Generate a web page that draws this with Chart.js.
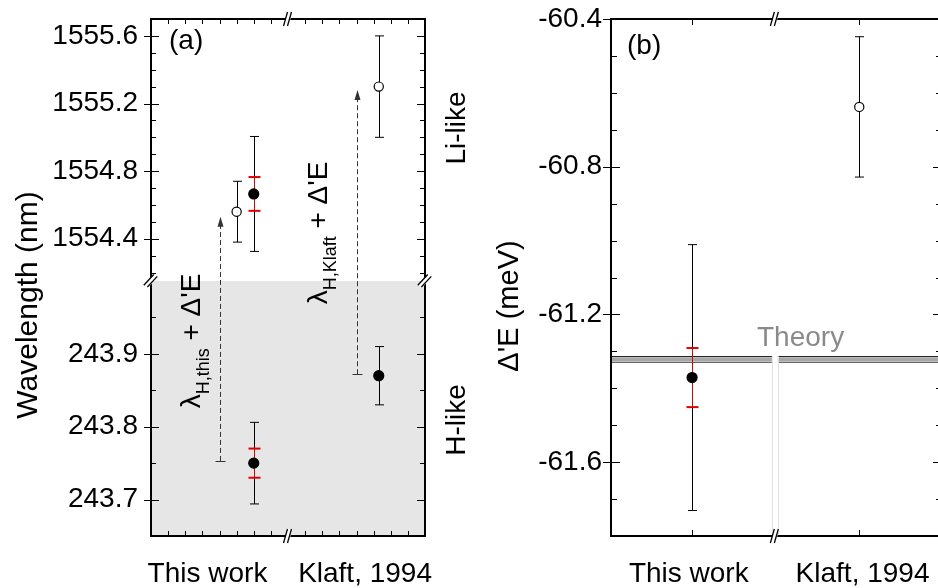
<!DOCTYPE html>
<html>
<head>
<meta charset="utf-8">
<title>Wavelength and Δ'E comparison</title>
<script src="https://cdn.jsdelivr.net/npm/chart.js@4.4.1/dist/chart.umd.min.js"></script>
<style>
	html, body { margin: 0; padding: 0; background: #fff; overflow: hidden; }
	#wrap { position: relative; width: 938px; height: 588px; overflow: hidden; }
	#panelA { position: absolute; left: 0; top: 0; }
	#panelB { position: absolute; left: 470px; top: 0; }
</style>
</head>
<body>
<div id="wrap">
	<canvas id="panelA" width="470" height="588"></canvas>
	<canvas id="panelB" width="480" height="588"></canvas>
</div>
<script>
var categories = [ 'This work', 'Klaft, 1994' ];
var catPosA    = [ 3.3, 12.5 ];   // label centres on the (a) x axis (0–16)
var catPosB    = [ 0.94, 3.04 ];  // label centres on the (b) x axis (0–4)

// (a) Li-like, upper segment (nm)
var liX    = [ 5, 6, 13.3 ];
var liY    = [ 1554.56, 1554.665, 1555.30 ];
var liErr  = [ 0.18, 0.34, 0.30 ];
var liStat = [ 0, 0.10, 0 ];
var liFill = [ false, true, false ];

// (a) H-like, lower segment (nm)
var hX    = [ 6, 13.3 ];
var hY    = [ 243.750, 243.870 ];
var hErr  = [ 0.056, 0.040 ];
var hStat = [ 0.020, 0 ];
var hFill = [ true, true ];

// (a) lambda_H + dE arrows
var arrowX    = [ 4, 12 ];
var arrowFrom = [ 243.753, 243.872 ];
var arrowTo   = [ 1554.53, 1555.28 ];
var breakXA   = 8;

// (b) dE (meV)
var dX    = [ 0.98, 3.0 ];
var dY    = [ -61.371, -60.638 ];
var dErr  = [ 0.36, 0.19 ];
var dStat = [ 0.08, 0 ];
var dFill = [ true, false ];
var theoryBand = [ -61.328, -61.316 ];
var breakXB    = 1.98;

// labelled ticks
var ticksTop = [ 1554.4, 1554.8, 1555.2, 1555.6 ];
var ticksBot = [ 243.7, 243.8, 243.9 ];
var ticksB   = [ -61.6, -61.2, -60.8, -60.4 ];

(function() {
	'use strict';

	var FONT = '"Liberation Sans", Arial, Helvetica, sans-serif';

	/* ═══ HELPERS ═══ */

	function isIn( list, v ) {
		for ( var i = 0; i < list.length; i++ ) {
			if ( Math.abs( list[i] - v ) < 1e-6 ) return true;
		}
		return false;
	}

	function line( ctx, x1, y1, x2, y2 ) {
		ctx.beginPath();
		ctx.moveTo( x1, y1 );
		ctx.lineTo( x2, y2 );
		ctx.stroke();
	}

	function crisp( v ) {
		return Math.round( v ) + 0.5;
	}

	function makePoints( xs, ys, fills, axis, err, stat ) {
		var pts = [];
		for ( var i = 0; i < xs.length; i++ ) pts.push({ x: xs[i], y: ys[i] });
		return {
			data: pts,
			yAxisID: axis,
			showLine: false,
			pointRadius: fills.map( function( f ) { return f ? 5 : 4.6; } ),
			pointHoverRadius: 5,
			pointBackgroundColor: fills.map( function( f ) { return f ? '#000' : '#fff'; } ),
			pointBorderColor: '#000',
			pointBorderWidth: 1.2,
			err: err,
			stat: stat
		};
	}

	// tick labels sit "gap" px left of the frame; the gap is given as tickLength
	// (not drawn) so it does not add to the top padding of the chart area
	function yAxis( min, max, step, labels, width, gap, extra ) {
		var o = {
			type: 'linear',
			axis: 'y',
			position: 'left',
			min: min,
			max: max,
			grid: { display: false, drawTicks: true, tickLength: gap },
			border: { display: false },
			ticks: {
				stepSize: step,
				autoSkip: false,
				includeBounds: false,
				padding: 0,
				color: '#000',
				font: { family: FONT, size: 28 },
				callback: function( v ) { return isIn( labels, v ) ? v.toFixed( 1 ) : ''; }
			},
			afterFit: function( scale ) { scale.width = width; }
		};
		for ( var k in extra ) o[k] = extra[k];
		return o;
	}

	function errBar( ctx, x, yHi, yLo, cap, color, lw, capLw ) {
		ctx.strokeStyle = color;
		ctx.lineWidth = lw;
		line( ctx, x, yHi, x, yLo );
		ctx.lineWidth = capLw;
		line( ctx, x - cap, yHi, x + cap, yHi );
		line( ctx, x - cap, yLo, x + cap, yLo );
	}

	// ticks on the left and right frame lines, pointing inward
	function yTicks( ctx, scale, area, majors, len ) {
		ctx.strokeStyle = '#000';
		ctx.lineWidth = 1;
		scale.ticks.forEach( function( t ) {
			var major = isIn( majors, t.value );
			var atEnd = Math.abs( t.value - scale.min ) < 1e-6 || Math.abs( t.value - scale.max ) < 1e-6;
			if ( atEnd && ! major ) return;
			var y = crisp( scale.getPixelForValue( t.value ) );
			var inner = major ? len.major : len.minor;
			line( ctx, area.left - ( major ? len.out : 0 ), y, area.left + inner, y );
			line( ctx, area.right - inner, y, area.right, y );
		});
	}

	function xTicks( ctx, scale, area, values, len ) {
		ctx.strokeStyle = '#000';
		ctx.lineWidth = 1;
		values.forEach( function( v ) {
			var x = crisp( scale.getPixelForValue( v ) );
			line( ctx, x, area.top, x, area.top + len );
			line( ctx, x, area.bottom - len, x, area.bottom );
		});
	}

	// "//" break mark across an axis line
	function breakMark( ctx, x, y, vertical ) {
		ctx.save();
		ctx.translate( x, y );
		if ( vertical ) ctx.rotate( Math.PI / 2 * 0.3 );
		ctx.fillStyle = '#fff';
		ctx.beginPath();
		ctx.moveTo( -4.5, 7 );
		ctx.lineTo( -0.5, -7 );
		ctx.lineTo( 4.5, -7 );
		ctx.lineTo( 0.5, 7 );
		ctx.closePath();
		ctx.fill();
		ctx.strokeStyle = '#000';
		ctx.lineWidth = 1.3;
		line( ctx, -4.5, 7, -0.5, -7 );
		line( ctx, -0.5, 7, 3.5, -7 );
		ctx.restore();
	}

	function rotText( ctx, x, yc, parts, color ) {
		var widths = [];
		var total = 0;
		parts.forEach( function( p ) {
			ctx.font = p.size + 'px ' + FONT;
			var w = ctx.measureText( p.text ).width;
			widths.push( w );
			total += w;
		});
		ctx.save();
		ctx.translate( x, yc );
		ctx.rotate( -Math.PI / 2 );
		ctx.fillStyle = color || '#000';
		ctx.textAlign = 'left';
		ctx.textBaseline = 'alphabetic';
		var cx = -total / 2;
		parts.forEach( function( p, i ) {
			ctx.font = p.size + 'px ' + FONT;
			ctx.fillText( p.text, cx, p.shift || 0 );
			cx += widths[i];
		});
		ctx.restore();
	}

	function text( ctx, str, x, y, size, align, color ) {
		ctx.font = size + 'px ' + FONT;
		ctx.fillStyle = color || '#000';
		ctx.textAlign = align || 'left';
		ctx.textBaseline = 'alphabetic';
		ctx.fillText( str, x, y );
	}

	/* ═══ SHARED PLUGINS ═══ */

	var errorBarPlugin = {
		id: 'errorBars',
		beforeDatasetsDraw: function( chart ) {
			var ctx = chart.ctx;
			ctx.save();
			chart.data.datasets.forEach( function( ds, di ) {
				if ( ! ds.err ) return;
				var meta = chart.getDatasetMeta( di );
				var ys = chart.scales[ ds.yAxisID ];
				ds.data.forEach( function( p, i ) {
					var x = crisp( meta.data[i].x );
					errBar( ctx, x, ys.getPixelForValue( p.y + ds.err[i] ), ys.getPixelForValue( p.y - ds.err[i] ), 4.5, '#000', 1, 1 );
					if ( ds.stat[i] ) {
						errBar( ctx, x, ys.getPixelForValue( p.y + ds.stat[i] ), ys.getPixelForValue( p.y - ds.stat[i] ), 6, '#e00000', 1, 2 );
					}
				});
			});
			ctx.restore();
		}
	};

	var baseOptions = function( padding ) {
		return {
			responsive: false,
			animation: false,
			events: [],
			layout: { padding: padding },
			plugins: { legend: { display: false }, tooltip: { enabled: false } }
		};
	};

	/* ═══ PANEL (a) ═══ */

	var panelABack = {
		id: 'panelABack',
		beforeDatasetsDraw: function( chart ) {
			var ctx = chart.ctx;
			var a = chart.chartArea;
			var yb = chart.scales.yBot;
			var top = yb.getPixelForValue( yb.max );
			ctx.save();
			ctx.fillStyle = '#e6e6e6';
			ctx.fillRect( a.left, top, a.right - a.left, a.bottom - top );

			// lambda_H + dE arrows, from the H-like scale up to the Li-like scale
			var xs = chart.scales.x;
			var yt = chart.scales.yTop;
			ctx.strokeStyle = '#333';
			ctx.fillStyle = '#333';
			for ( var i = 0; i < arrowX.length; i++ ) {
				var x  = crisp( xs.getPixelForValue( arrowX[i] ) );
				var y0 = yb.getPixelForValue( arrowFrom[i] );
				var y1 = yt.getPixelForValue( arrowTo[i] );
				ctx.lineWidth = 1;
				ctx.setLineDash( [ 5, 3 ] );
				line( ctx, x, y0, x, y1 + 8 );
				ctx.setLineDash( [] );
				line( ctx, x - 5, crisp( y0 ), x + 5, crisp( y0 ) );
				ctx.beginPath();
				ctx.moveTo( x, y1 );
				ctx.lineTo( x - 3, y1 + 10 );
				ctx.lineTo( x + 3, y1 + 10 );
				ctx.closePath();
				ctx.fill();
			}
			ctx.restore();
		}
	};

	var panelAFrame = {
		id: 'panelAFrame',
		afterDatasetsDraw: function( chart ) {
			var ctx = chart.ctx;
			var a = chart.chartArea;
			var xs = chart.scales.x;
			var yt = chart.scales.yTop;
			var yb = chart.scales.yBot;
			ctx.save();

			ctx.strokeStyle = '#000';
			ctx.lineWidth = 2;
			ctx.strokeRect( a.left, a.top, a.right - a.left, a.bottom - a.top );

			var len = { major: 8, minor: 5, out: 7 };
			yTicks( ctx, yt, a, ticksTop, len );
			yTicks( ctx, yb, a, ticksBot, len );

			var xv = [];
			for ( var v = xs.min + 1; v < xs.max; v++ ) if ( v !== breakXA ) xv.push( v );
			xTicks( ctx, xs, a, xv, 5 );

			var bx = xs.getPixelForValue( breakXA );
			var by = yb.getPixelForValue( yb.max );
			breakMark( ctx, bx, a.top, false );
			breakMark( ctx, bx, a.bottom, false );
			breakMark( ctx, a.left, by, true );
			breakMark( ctx, a.right, by, true );

			// category labels
			for ( var i = 0; i < categories.length; i++ ) {
				text( ctx, categories[i], xs.getPixelForValue( catPosA[i] ), 582, 28, 'center' );
			}

			text( ctx, '(a)', 169, 49, 28 );
			rotText( ctx, 37, 305, [ { text: 'Wavelength (nm)', size: 30 } ] );
			rotText( ctx, 465, 128, [ { text: 'Li-like', size: 28 } ] );
			rotText( ctx, 465, 420, [ { text: 'H-like', size: 28 } ] );
			rotText( ctx, 200, 341, [
				{ text: 'λ', size: 28 },
				{ text: 'H,this', size: 18, shift: 9 },
				{ text: ' + Δ\'E', size: 28 }
			] );
			rotText( ctx, 327, 233, [
				{ text: 'λ', size: 28 },
				{ text: 'H,Klaft', size: 18, shift: 9 },
				{ text: ' + Δ\'E', size: 28 }
			] );
			ctx.restore();
		}
	};

	var optsA = baseOptions({ top: 19, right: 45, bottom: 52, left: 0 });
	optsA.scales = {
		x: { type: 'linear', display: false, min: 0, max: 16, ticks: { stepSize: 1 } },
		yBot: yAxis( 243.65, 244.0, 0.05, ticksBot, 151, 13, { stack: 'wl', stackWeight: 255, weight: 1 } ),
		yTop: yAxis( 1554.15, 1555.7, 0.1, ticksTop, 151, 13, { stack: 'wl', stackWeight: 262, weight: 2 } )
	};

	new Chart( document.getElementById( 'panelA' ), {
		type: 'scatter',
		data: {
			datasets: [
				makePoints( liX, liY, liFill, 'yTop', liErr, liStat ),
				makePoints( hX, hY, hFill, 'yBot', hErr, hStat )
			]
		},
		options: optsA,
		plugins: [ panelABack, errorBarPlugin, panelAFrame ]
	});

	/* ═══ PANEL (b) ═══ */

	var panelBBack = {
		id: 'panelBBack',
		beforeDatasetsDraw: function( chart ) {
			var ctx = chart.ctx;
			var a = chart.chartArea;
			var xs = chart.scales.x;
			var ys = chart.scales.y;
			var yLo = ys.getPixelForValue( theoryBand[0] );
			var yHi = ys.getPixelForValue( theoryBand[1] );
			ctx.save();
			ctx.fillStyle = '#a6a6a6';
			ctx.fillRect( a.left, yHi, a.right - a.left, yLo - yHi );
			ctx.strokeStyle = '#222';
			ctx.lineWidth = 1;
			line( ctx, a.left, crisp( yHi ) - 1, a.right, crisp( yHi ) - 1 );
			ctx.strokeStyle = '#666';
			line( ctx, a.left, crisp( yLo ), a.right, crisp( yLo ) );

			// gap below the axis break
			var bx = xs.getPixelForValue( breakXB );
			ctx.fillStyle = '#fff';
			ctx.fillRect( bx - 3, yHi - 2, 6, a.bottom - yHi + 2 );
			ctx.strokeStyle = '#e2e2e2';
			line( ctx, crisp( bx - 3 ), yHi - 1, crisp( bx - 3 ), a.bottom );
			line( ctx, crisp( bx + 3 ), yHi - 1, crisp( bx + 3 ), a.bottom );

			text( ctx, 'Theory', 287, 346, 28, 'left', '#8a8a8a' );
			ctx.restore();
		}
	};

	var panelBFrame = {
		id: 'panelBFrame',
		afterDatasetsDraw: function( chart ) {
			var ctx = chart.ctx;
			var a = chart.chartArea;
			var xs = chart.scales.x;
			var ys = chart.scales.y;
			ctx.save();

			ctx.strokeStyle = '#000';
			ctx.lineWidth = 2;
			ctx.strokeRect( a.left, a.top, a.right - a.left, a.bottom - a.top );

			yTicks( ctx, ys, a, ticksB, { major: 9, minor: 6, out: 8 } );
			xTicks( ctx, xs, a, dX, 6 );

			var bx = xs.getPixelForValue( breakXB );
			breakMark( ctx, bx, a.top, false );
			breakMark( ctx, bx, a.bottom, false );

			for ( var i = 0; i < categories.length; i++ ) {
				text( ctx, categories[i], xs.getPixelForValue( catPosB[i] ), 582, 28, 'center' );
			}

			text( ctx, '(b)', 157, 54, 28 );
			rotText( ctx, 48, 306, [ { text: 'Δ\'E (meV)', size: 29 } ] );
			ctx.restore();
		}
	};

	var optsB = baseOptions({ top: 19, right: 8, bottom: 52, left: 0 });
	optsB.scales = {
		x: { type: 'linear', display: false, min: 0, max: 4, ticks: { stepSize: 1 } },
		y: yAxis( -61.8, -60.4, 0.1, ticksB, 141, 9, {} )
	};

	new Chart( document.getElementById( 'panelB' ), {
		type: 'scatter',
		data: {
			datasets: [
				makePoints( dX, dY, dFill, 'y', dErr, dStat )
			]
		},
		options: optsB,
		plugins: [ panelBBack, errorBarPlugin, panelBFrame ]
	});

})();
</script>
</body>
</html>
